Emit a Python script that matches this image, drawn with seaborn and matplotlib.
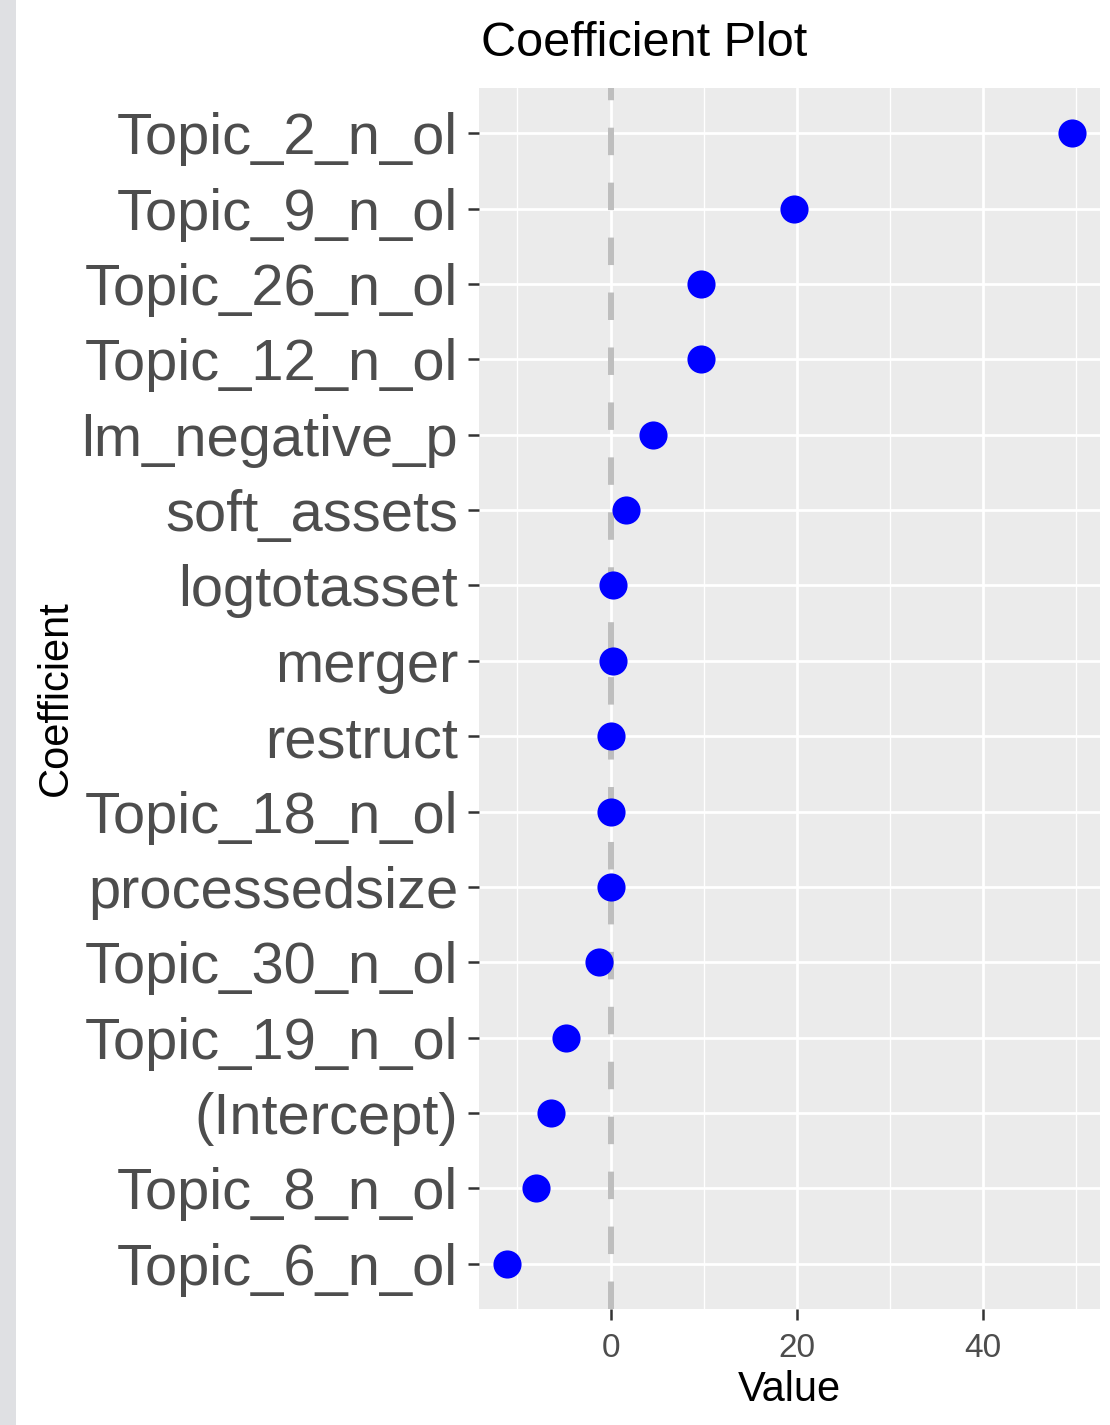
import matplotlib
matplotlib.use("Agg")
import matplotlib.pyplot as plt
from matplotlib.patches import Rectangle
from matplotlib.ticker import FixedLocator
import seaborn as sns
import pandas as pd

# ---- data (bottom to top) ----
coefficients = ["Topic_6_n_ol", "Topic_8_n_ol", "(Intercept)", "Topic_19_n_ol",
                "Topic_30_n_ol", "processedsize", "Topic_18_n_ol", "restruct",
                "merger", "logtotasset", "soft_assets", "lm_negative_p",
                "Topic_12_n_ol", "Topic_26_n_ol", "Topic_9_n_ol", "Topic_2_n_ol"]
values = [-11.1, -8.0, -6.4, -4.8, -1.2, 0.05, 0.07, 0.07, 0.25, 0.3,
          1.6, 4.5, 9.7, 9.7, 19.7, 49.5]
x_major = [0, 20, 40]
x_minor = [-10, 10, 30, 50]
x_labels = ["0", "20", "40"]

df = pd.DataFrame({"Coefficient": coefficients, "Value": values})

sns.set_style("white")
plt.rcParams["font.family"] = ["Liberation Sans", "DejaVu Sans"]

W, H = 1110, 1425
fig = plt.figure(figsize=(W / 100, H / 100), dpi=100)
fig.patches.append(Rectangle((0, 0), 16 / W, 1, transform=fig.transFigure,
                             facecolor="#dfe0e3", edgecolor="none", zorder=0))

left, right, top, bottom = 479, 1100, 88, 1309
ax = fig.add_axes([left / W, 1 - bottom / H, (right - left) / W, (bottom - top) / H])
ax.set_facecolor("#EBEBEB")
for s in ax.spines.values():
    s.set_visible(False)

sns.scatterplot(data=df, x="Value", y="Coefficient", color="#0000FF", s=410,
                linewidth=0, ax=ax, zorder=4, legend=False)

lo, hi = min(values), max(values)
span = hi - lo
ax.set_xlim(lo - 0.05 * span, hi + 0.05 * span)
ax.set_ylim(-0.6, len(coefficients) - 1 + 0.6)

ax.xaxis.set_major_locator(FixedLocator(x_major))
ax.xaxis.set_minor_locator(FixedLocator(x_minor))
ax.set_xticklabels(x_labels)
ax.grid(True, which="major", color="white", linewidth=1.95, zorder=1)
ax.grid(True, which="minor", axis="x", color="white", linewidth=1.0, zorder=1)
ax.set_axisbelow(True)

ax.axvline(0, color="#BEBEBE", linewidth=4.3, linestyle=(0, (4.6, 4.6)), zorder=2)

ax.tick_params(axis="both", which="major", length=8, width=1.8, color="#333333",
               labelcolor="#4D4D4D", direction="out", left=True, bottom=True)
ax.tick_params(axis="x", which="minor", length=0)
ax.tick_params(axis="y", labelsize=41.7, pad=7)
ax.tick_params(axis="x", labelsize=24, pad=9)

ax.set_xlabel("Value", fontsize=30, color="black")
ax.set_ylabel("Coefficient", fontsize=30, color="black")
ax.xaxis.set_label_coords(0.5, -(1390 - bottom) / (bottom - top))
ax.xaxis.label.set_va("center")
ax.yaxis.set_label_coords((56 - left) / (right - left), 0.5)
ax.yaxis.label.set_va("center")

fig.text(481 / W, 1 - 43 / H, "Coefficient Plot", fontsize=35, color="black",
         ha="left", va="center")

fig.savefig("out.png", dpi=100)
